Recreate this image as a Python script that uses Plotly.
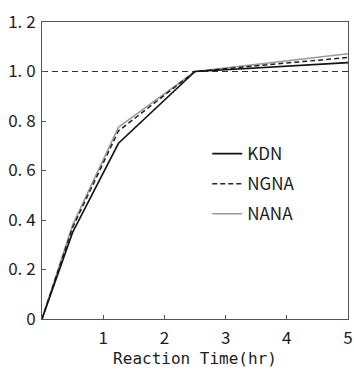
import plotly.graph_objects as go

time_hr = [0, 0.5, 1.25, 2.5, 5]
kdn = [0, 0.35, 0.71, 1.0, 1.036]
ngna = [0, 0.37, 0.76, 1.0, 1.057]
nana = [0, 0.38, 0.775, 1.0, 1.072]
ref_x = [0, 5]
ref_y = [1.0, 1.0]
y_ticks = [0, 0.2, 0.4, 0.6, 0.8, 1.0, 1.2]
y_ticklabels = ["0", "0. 2", "0. 4", "0. 6", "0. 8", "1. 0", "1. 2"]
x_ticks = [1, 2, 3, 4, 5]

font_main = "Noto Sans CJK JP"
txt = "#1c1c24"

fig = go.Figure()
fig.add_trace(go.Scatter(x=ref_x, y=ref_y, mode="lines", showlegend=False,
                         line=dict(color="#333", width=1, dash="6px,4px")))
fig.add_trace(go.Scatter(x=time_hr, y=nana, mode="lines", name="NANA", legendrank=3,
                         legendgroup="c", line=dict(color="#999999", width=1.6)))
fig.add_trace(go.Scatter(x=time_hr, y=ngna, mode="lines", name="NGNA", legendrank=2,
                         legendgroup="b", line=dict(color="#222", width=1.5, dash="5px,3px")))
fig.add_trace(go.Scatter(x=time_hr, y=kdn, mode="lines", name="KDN", legendrank=1,
                         legendgroup="a", line=dict(color="#111", width=1.6)))

fig.update_layout(
    width=354, height=371,
    margin=dict(l=42, r=6, t=22, b=52, autoexpand=False),
    paper_bgcolor="white", plot_bgcolor="white",
    font=dict(family=font_main, size=17, color=txt),
    legend=dict(x=0.54, y=0.616, xanchor="left", yanchor="top",
                bgcolor="rgba(0,0,0,0)", tracegroupgap=5,
                font=dict(family=font_main, size=17, color=txt)),
    xaxis=dict(range=[0, 5], tickvals=x_ticks, ticks="inside", ticklen=4,
               tickcolor="#555", showline=True, linecolor="#555", linewidth=1,
               mirror=True, showgrid=False, zeroline=False, automargin=False,
               ticklabeloverflow="allow", ticklabelstandoff=4,
               tickfont=dict(family=font_main, size=17, color=txt),
               title=dict(text="Reaction Time(hr)", standoff=2,
                          font=dict(family="DejaVu Sans Mono", size=16, color=txt))),
    yaxis=dict(range=[0, 1.2], tickvals=y_ticks, ticktext=y_ticklabels,
               ticks="inside", ticklen=4, tickcolor="#555", showline=True,
               linecolor="#555", linewidth=1, mirror=True, showgrid=False,
               zeroline=False, ticklabelstandoff=2, automargin=False,
               ticklabeloverflow="allow",
               tickfont=dict(family=font_main, size=17, color=txt)),
)

fig.write_html(
    "out.html",
    config={"displayModeBar": False},
    post_script="document.body.style.margin='0';document.body.style.overflow='hidden';",
)
